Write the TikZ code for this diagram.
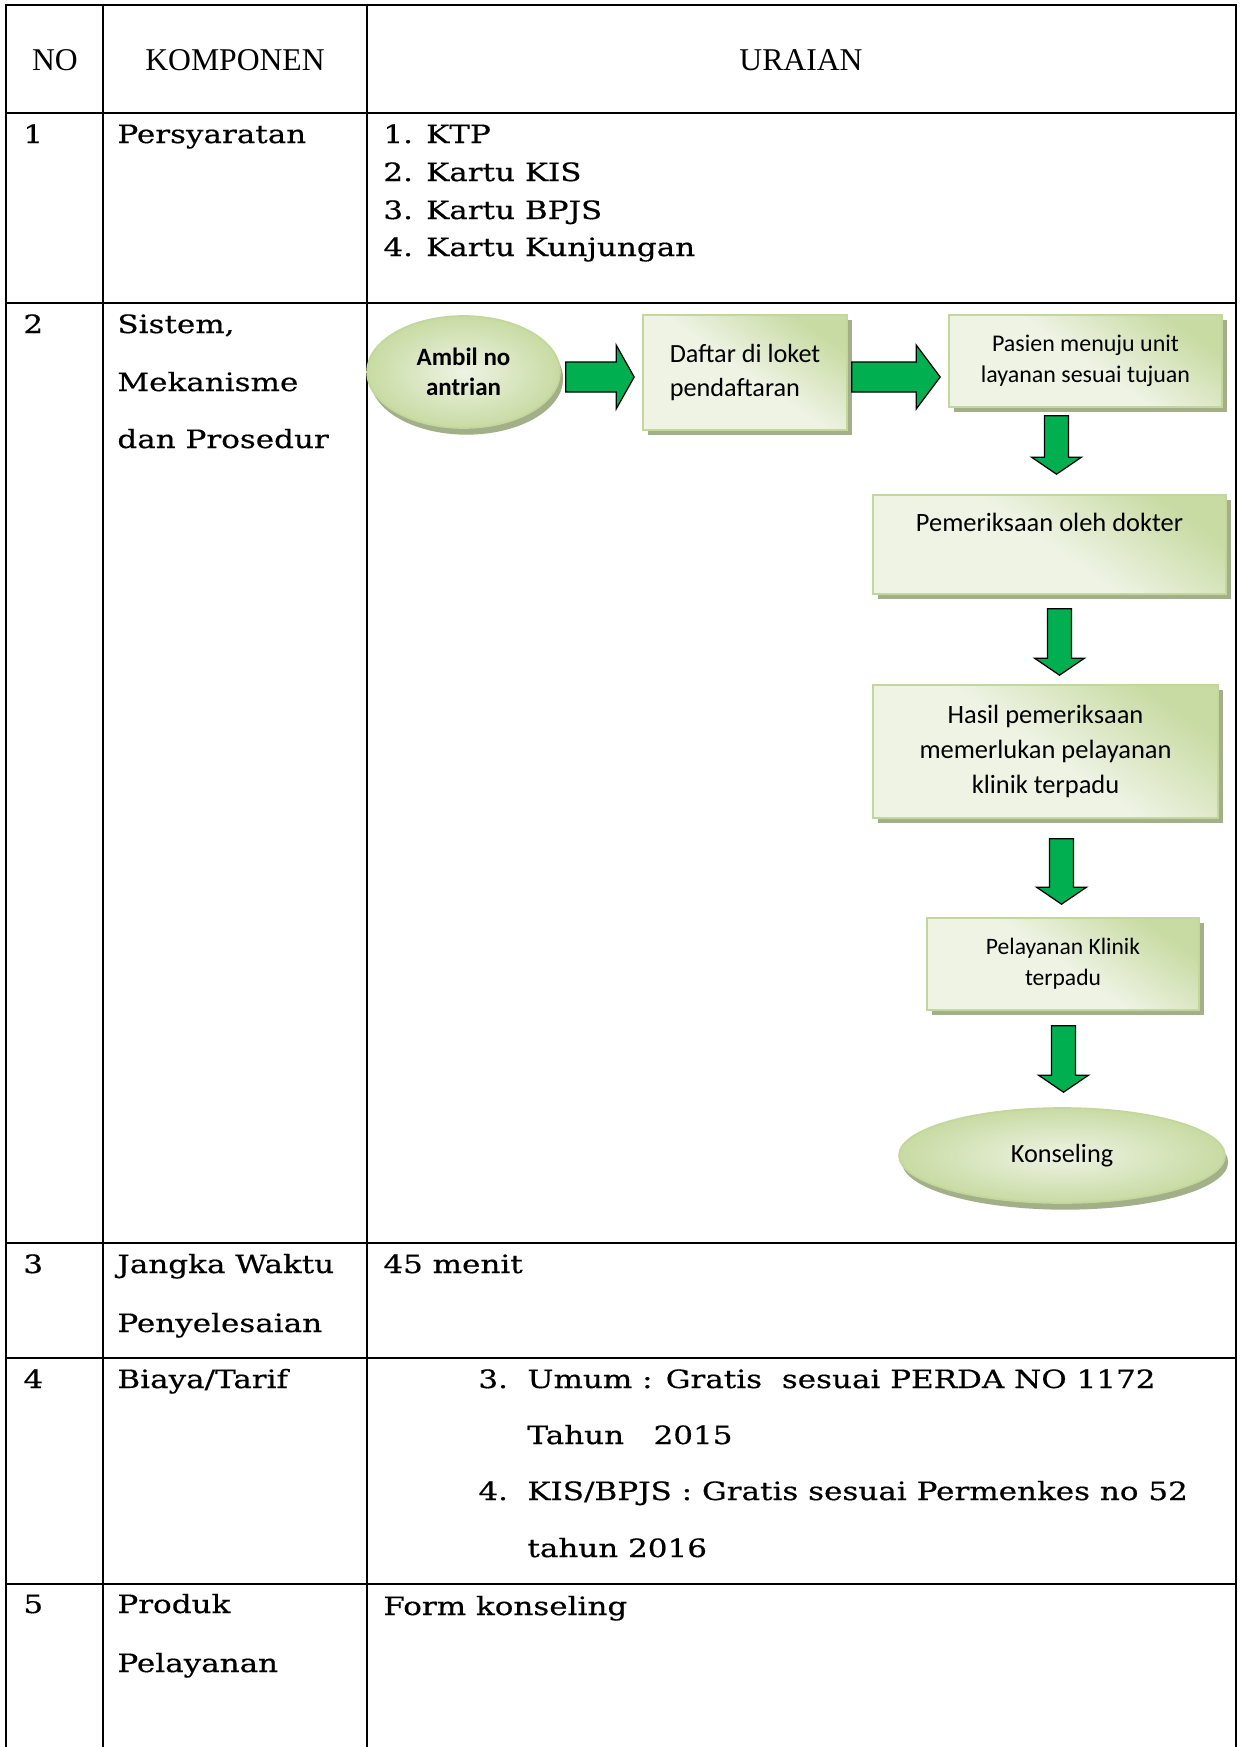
\documentclass[tikz,border=0pt]{standalone}
\usepackage{fontspec}
\setmainfont{DejaVu Serif}[FakeStretch=1.23, FakeBold=0.5]
\newfontfamily\headfont{Liberation Serif}
\newfontfamily\flowfont{Carlito}
\usetikzlibrary{shapes.geometric,shadows,calc}

\definecolor{boxedge}{RGB}{195,214,155}
\definecolor{boxdeep}{RGB}{200,219,163}
\definecolor{boxpale}{RGB}{238,243,228}
\definecolor{boxshadow}{RGB}{163,175,136}
\definecolor{flowgreen}{RGB}{0,176,80}

% one unit = one pixel of a 150 dpi A4 page, y grows downwards
\newcommand\pxl[1]{#1*0.48pt}

\tikzset{
  grid/.style={line width=1pt, black, line join=miter},
  cell/.style={inner sep=0pt, anchor=base west, font=\fontsize{12.1}{14}\selectfont},
  headcell/.style={inner sep=0pt, anchor=base, font=\headfont\fontsize{15.2}{18}\selectfont},
  flowbox/.style={rectangle, draw=boxedge, line width=0.8pt,
    top color=boxdeep, bottom color=boxpale, middle color=boxpale, shading angle=-35,
    drop shadow={shadow xshift=2.5pt, shadow yshift=-2.5pt, fill=boxshadow, opacity=1},
    inner sep=0pt, align=center},
  flowoval/.style={ellipse, draw=boxedge, line width=0.8pt,
    inner color=boxpale, outer color=boxdeep,
    drop shadow={shadow xshift=1.5pt, shadow yshift=-3.2pt, fill=boxshadow, opacity=1},
    inner sep=0pt, align=center},
  fatarrow/.style={fill=flowgreen, draw=black, line width=0.6pt, line join=miter},
}

% block arrow pointing right, from shaft start #1 to tip #2 (same height), head length #3
\newcommand\fatright[3]{%
  \draw[fatarrow] ($(#1)+(0,-15)$) -- ($(#2)+(-#3,-15)$) -- ($(#2)+(-#3,-32)$) -- (#2)
    -- ($(#2)+(-#3,32)$) -- ($(#2)+(-#3,15)$) -- ($(#1)+(0,15)$) -- cycle;}
% block arrow pointing down, from shaft top #1 to tip #2 (same column)
\newcommand\fatdown[2]{%
  \draw[fatarrow] ($(#1)+(-12,0)$) -- ($(#1)+(12,0)$) -- ($(#2)+(12,-17)$) -- ($(#2)+(25,-17)$)
    -- (#2) -- ($(#2)+(-25,-17)$) -- ($(#2)+(-12,-17)$) -- cycle;}

\begin{document}
\begin{tikzpicture}[x=0.48pt, y=-0.48pt]
\useasboundingbox[fill=white] (0,0) rectangle (1240,1747);

% ---- table rules ----
\draw[grid] (6,1747) -- (6,5) -- (1236,5) -- (1236,1747);
\draw[grid] (103,5) -- (103,1747);
\draw[grid] (367,5) -- (367,1747);
\foreach \yy in {113,303,1243,1358,1584}
  \draw[grid] (6,\yy) -- (1236,\yy);

% ---- header ----
\node[headcell] (hno) at (55,70) {NO};
\node[headcell] (hkomp) at (235,70) {KOMPONEN};
\node[headcell] (hurai) at (801,70) {URAIAN};

% ---- row 1 ----
\node[cell] (n1) at (23,143) {1};
\node[cell] (k1) at (117,143) {Persyaratan};
\node[cell] (u1a) at (383,143) {1. KTP};
\node[cell] (u1b) at (383,181) {2. Kartu KIS};
\node[cell] (u1c) at (383,219) {3. Kartu BPJS};
\node[cell] (u1d) at (383,256) {4. Kartu Kunjungan};

% ---- row 2 ----
\node[cell] (n2) at (23,333) {2};
\node[cell] (k2a) at (117,333) {Sistem,};
\node[cell] (k2b) at (117,391) {Mekanisme};
\node[cell] (k2c) at (117,448) {dan Prosedur};

% ---- row 3 ----
\node[cell] (n3) at (23,1273) {3};
\node[cell] (k3a) at (117,1273) {Jangka Waktu};
\node[cell] (k3b) at (117,1332) {Penyelesaian};
\node[cell] (u3) at (383,1273) {45 menit};

% ---- row 4 ----
\node[cell] (n4) at (23,1388) {4};
\node[cell] (k4) at (117,1388) {Biaya/Tarif};
\node[cell] (u4n1) at (478,1388) {3.};
\node[cell] (u4a) at (527,1388) {Umum : Gratis\ \ sesuai PERDA NO 1172};
\node[cell] (u4b) at (527,1444) {Tahun\ \ \ 2015};
\node[cell] (u4n2) at (478,1500) {4.};
\node[cell] (u4c) at (527,1500) {KIS/BPJS : Gratis sesuai Permenkes no 52};
\node[cell] (u4d) at (527,1557) {tahun 2016};

% ---- row 5 ----
\node[cell] (n5) at (23,1613) {5};
\node[cell] (k5a) at (117,1613) {Produk};
\node[cell] (k5b) at (117,1672) {Pelayanan};
\node[cell] (u5) at (383,1615) {Form konseling};

% ---- service flow ----
\node[flowoval, minimum width=\pxl{193}, minimum height=\pxl{112},
      font=\flowfont\bfseries\fontsize{12}{14.4}\selectfont]
  (ambil) at (463.5,372) {Ambil no\\antrian};
\node[flowbox, minimum width=\pxl{204}, minimum height=\pxl{115}, align=left,
      font=\flowfont\fontsize{12.6}{16}\selectfont]
  (daftar) at (745,372.5) {Daftar di loket\\pendaftaran};
\node[flowbox, minimum width=\pxl{273}, minimum height=\pxl{92},
      font=\flowfont\fontsize{11.5}{14.9}\selectfont]
  (pasien) at (1085.5,361) {Pasien menuju unit\\layanan sesuai tujuan};
\node[flowbox, minimum width=\pxl{353}, minimum height=\pxl{99}]
  (periksa) at (1049.5,544.5) {};
\node[inner sep=0pt, anchor=base, font=\flowfont\fontsize{12.7}{15}\selectfont]
  (periksatxt) at ($(periksa.north)+(0,37)$) {Pemeriksaan oleh dokter};
\node[flowbox, minimum width=\pxl{345}, minimum height=\pxl{133},
      font=\flowfont\fontsize{12.7}{16.8}\selectfont]
  (hasil) at (1045.5,751.5) {Hasil pemeriksaan\\memerlukan pelayanan\\klinik terpadu};
\node[flowbox, minimum width=\pxl{272}, minimum height=\pxl{92},
      font=\flowfont\fontsize{11.3}{14.9}\selectfont]
  (pelayanan) at (1063,964) {Pelayanan Klinik\\terpadu};
\node[flowoval, minimum width=\pxl{326}, minimum height=\pxl{95},
      font=\flowfont\fontsize{12.6}{15}\selectfont]
  (konseling) at (1062,1155.5) {Konseling};

% ---- block arrows between the steps ----
\coordinate (a1s) at ($(ambil.east)+(5,5)$);
\coordinate (a1t) at ($(daftar.west)+(-8,4.5)$);
\fatright{a1s}{a1t}{18}
\coordinate (a2s) at ($(daftar.east)+(4,4.5)$);
\coordinate (a2t) at ($(pasien.west)+(-8,16)$);
\fatright{a2s}{a2t}{24}
\coordinate (a3s) at ($(pasien.south)+(-29,8)$);
\coordinate (a3t) at ($(periksa.north)+(7,-20)$);
\fatdown{a3s}{a3t}
\coordinate (a4s) at ($(periksa.south)+(10,14)$);
\coordinate (a4t) at ($(hasil.north)+(14,-9)$);
\fatdown{a4s}{a4t}
\coordinate (a5s) at ($(hasil.south)+(16,20)$);
\coordinate (a5t) at ($(pelayanan.north)+(-1.5,-13)$);
\fatdown{a5s}{a5t}
\coordinate (a6s) at ($(pelayanan.south)+(0.5,15)$);
\coordinate (a6t) at ($(konseling.north)+(1.5,-15)$);
\fatdown{a6s}{a6t}
\end{tikzpicture}
\end{document}
